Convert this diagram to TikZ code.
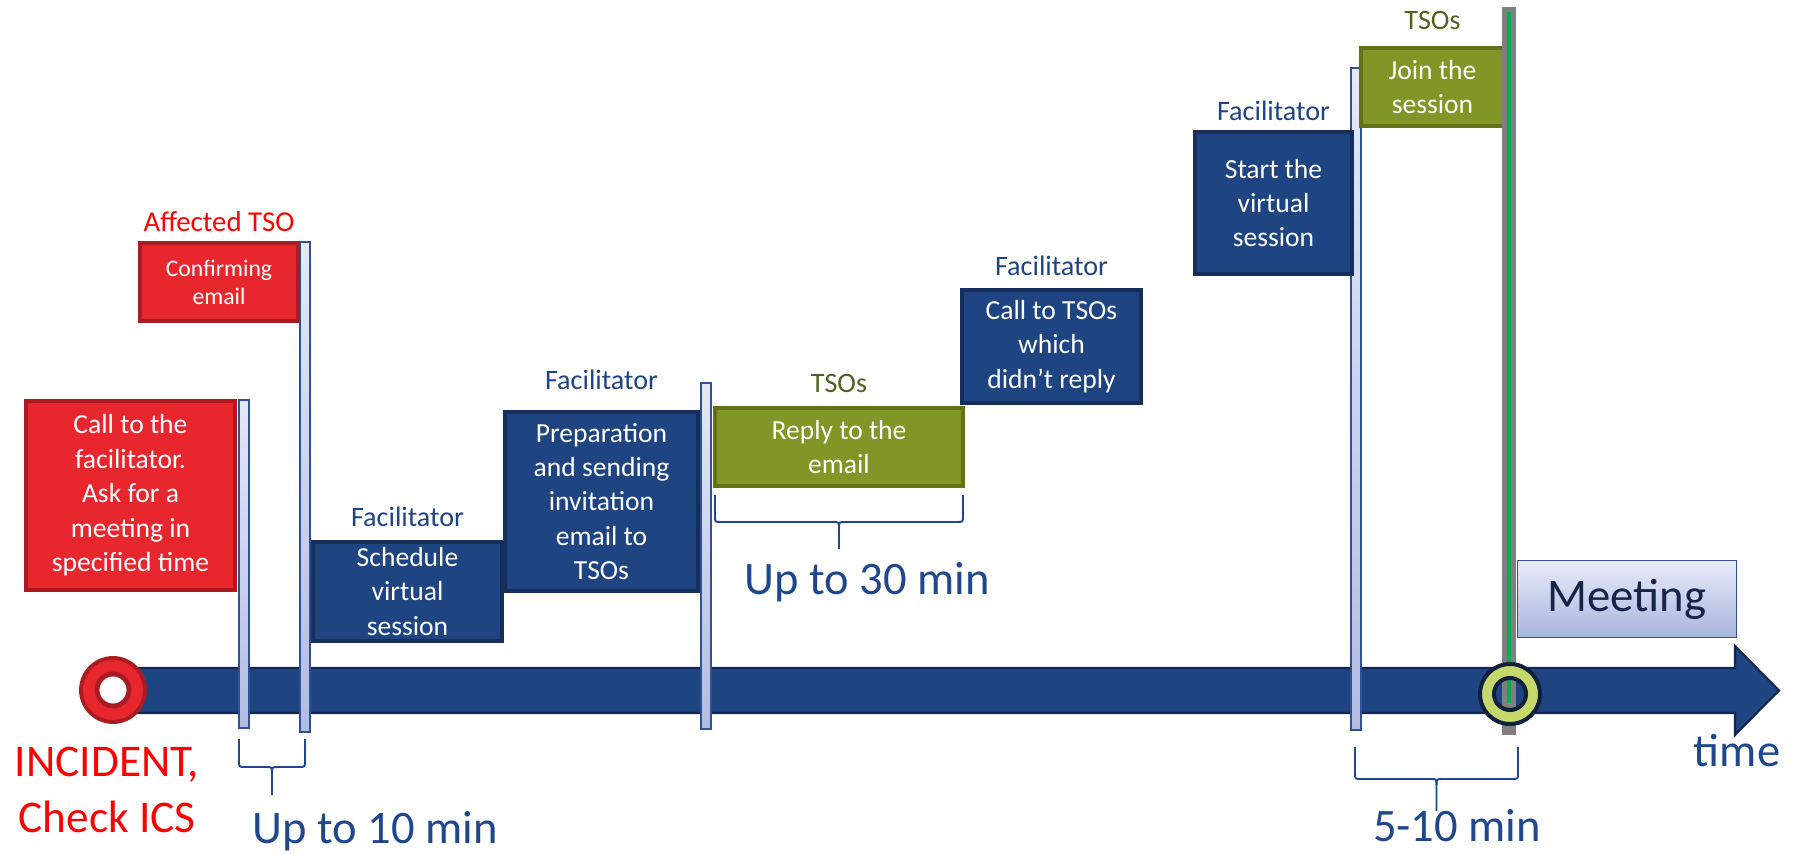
\documentclass[tikz,border=0pt]{standalone}
\usepackage{fontspec}
\setmainfont{Carlito}
\usetikzlibrary{positioning}

\definecolor{facblue}{RGB}{31,68,130}
\definecolor{facline}{RGB}{22,46,92}
\definecolor{tsored}{RGB}{232,38,46}
\definecolor{tsoredline}{RGB}{170,27,34}
\definecolor{tsoolive}{RGB}{128,150,38}
\definecolor{tsooliveline}{RGB}{99,114,25}
\definecolor{tsolabel}{RGB}{79,98,32}
\definecolor{barlight}{RGB}{228,232,246}
\definecolor{bardark}{RGB}{178,188,226}
\definecolor{baredge}{RGB}{47,82,150}
\definecolor{axisline}{RGB}{20,38,78}
\definecolor{ringlime}{RGB}{197,216,106}
\definecolor{ringline}{RGB}{18,32,62}
\definecolor{meetlight}{RGB}{232,235,248}
\definecolor{meetdark}{RGB}{170,181,222}
\definecolor{meettext}{RGB}{22,36,72}
\definecolor{durblue}{RGB}{31,72,140}
\definecolor{markgray}{RGB}{128,128,128}
\definecolor{markgreen}{RGB}{0,176,80}

% curly bracket under a time span: left x, right x, top y, arm length
\newcommand{\timebrace}[4]{%
  \draw[tbrace] (#1,#3) -- (#1,#3+#4-6) .. controls (#1,#3+#4) .. (#1+6,#3+#4)
    -- ({(#1+#2)/2-6},#3+#4) .. controls ({(#1+#2)/2},#3+#4) .. ({(#1+#2)/2},#3+#4+6)
    -- ({(#1+#2)/2},#3+2*#4);
  \draw[tbrace] (#2,#3) -- (#2,#3+#4-6) .. controls (#2,#3+#4) .. (#2-6,#3+#4)
    -- ({(#1+#2)/2+6},#3+#4) .. controls ({(#1+#2)/2},#3+#4) .. ({(#1+#2)/2},#3+#4+6);
}

\begin{document}
\begin{tikzpicture}
  [x=0.02cm, y=-0.02cm,
   box/.style={draw, line width=2.2pt, text=white, align=center,
     inner sep=0pt, font=\fontsize{15.7}{19.6}\selectfont},
   facbox/.style={box, fill=facblue, draw=facline},
   redbox/.style={box, fill=tsored, draw=tsoredline},
   tsobox/.style={box, fill=tsoolive, draw=tsooliveline},
   role/.style={inner sep=0pt, text=facblue,
     font=\fontsize{16}{19}\selectfont},
   tsorole/.style={role, text=tsolabel},
   bar/.style={draw=baredge, line width=0.8pt,
     top color=barlight, bottom color=bardark},
   tbrace/.style={durblue, line width=1.1pt},
   dur/.style={text=durblue, inner sep=0pt, anchor=base,
     font=\fontsize{26.5}{30}\selectfont}]

  \useasboundingbox (0,0) rectangle (1796,854);

  % time axis
  \draw[fill=facblue, draw=axisline, line width=1.2pt]
    (113,668) -- (1735,668) -- (1735,646) -- (1779,690.5)
    -- (1735,735) -- (1735,713) -- (113,713) -- cycle;
  \node[dur, text=durblue] (time) at (1737,766) {time};

  % step marks
  \foreach \x/\top/\bot in {239/400/728, 300/242/732, 701/383/729, 1351/68/730}
    \draw[bar] (\x,\top) rectangle (\x+10,\bot);

  % steps
  \node[redbox, minimum width=4.18cm, minimum height=3.78cm] (call)
    at (130.5,495.5) {Call to the\\facilitator.\\Ask for a\\meeting in\\specified time};
  \node[redbox, minimum width=3.16cm, minimum height=1.56cm,
    font=\fontsize{13.5}{16}\selectfont] (confirm)
    at (219,282) {Confirming\\email};
  \node[facbox, minimum width=3.78cm, minimum height=1.98cm] (sched)
    at (407.5,591.5) {Schedule\\virtual\\session};
  \node[facbox, minimum width=3.86cm, minimum height=3.58cm] (prep)
    at (601.5,501.5) {Preparation\\and sending\\invitation\\email to\\TSOs};
  \node[tsobox, minimum width=4.96cm, minimum height=1.56cm] (reply)
    at (839,447) {Reply to the\\email};
  \node[facbox, minimum width=3.58cm, minimum height=2.26cm] (calltso)
    at (1051.5,346.5) {Call to TSOs\\which\\didn’t reply};
  \node[facbox, minimum width=3.14cm, minimum height=2.84cm] (start)
    at (1273.5,203) {Start the\\virtual\\session};
  \node[tsobox, minimum width=2.86cm, minimum height=1.56cm] (join)
    at (1432.5,87) {Join the\\session};

  % who does it
  \node[role, text=red, font=\fontsize{16.4}{19}\selectfont,
    above=5pt of confirm] (affected) {Affected TSO};
  \node[role, above=7.4pt of sched] (fac1) {Facilitator};
  \node[role, above=11.3pt of prep] (fac2) {Facilitator};
  \node[tsorole, above=7.4pt of reply] (tso1) {TSOs};
  \node[role, above=6.8pt of calltso] (fac3) {Facilitator};
  \node[role, above=5.1pt of start] (fac4) {Facilitator};
  \node[tsorole, above=9.1pt of join] (tso2) {TSOs};

  % start of the meeting
  \fill[markgray] (1502,7) rectangle (1516,735);
  \fill[markgreen] (1507,12) rectangle (1511,703);
  \draw[fill=ringlime, draw=ringline, line width=2.3pt, even odd rule]
    (1510,694) circle[radius=30] (1510,694) circle[radius=16];
  \node[draw=baredge, line width=1pt, top color=meetlight, bottom color=meetdark,
    minimum width=4.38cm, minimum height=1.54cm, text=meettext,
    font=\fontsize{26.6}{30}\selectfont] (meeting) at (1627,599) {Meeting};

  % incident
  \draw[fill=tsored, draw=tsoredline, line width=2.2pt]
    (113,690) circle[radius=32];
  \draw[fill=white, draw=tsoredline, line width=2.8pt]
    (113,690) circle[radius=16];
  \node[text=red, align=center, inner sep=0pt,
    font=\fontsize{25.8}{32.3}\selectfont] (incident)
    at (107,790) {INCIDENT,\\Check ICS};

  % durations
  \timebrace{239}{305}{739}{28}
  \node[dur] (d10) at (375,843) {Up to 10 min};
  \timebrace{715}{963}{495}{27}
  \node[dur] (d30) at (867,595) {Up to 30 min};
  \timebrace{1355}{1518}{747}{32}
  \node[dur] (d5) at (1457,841) {5-10 min};
\end{tikzpicture}
\end{document}
